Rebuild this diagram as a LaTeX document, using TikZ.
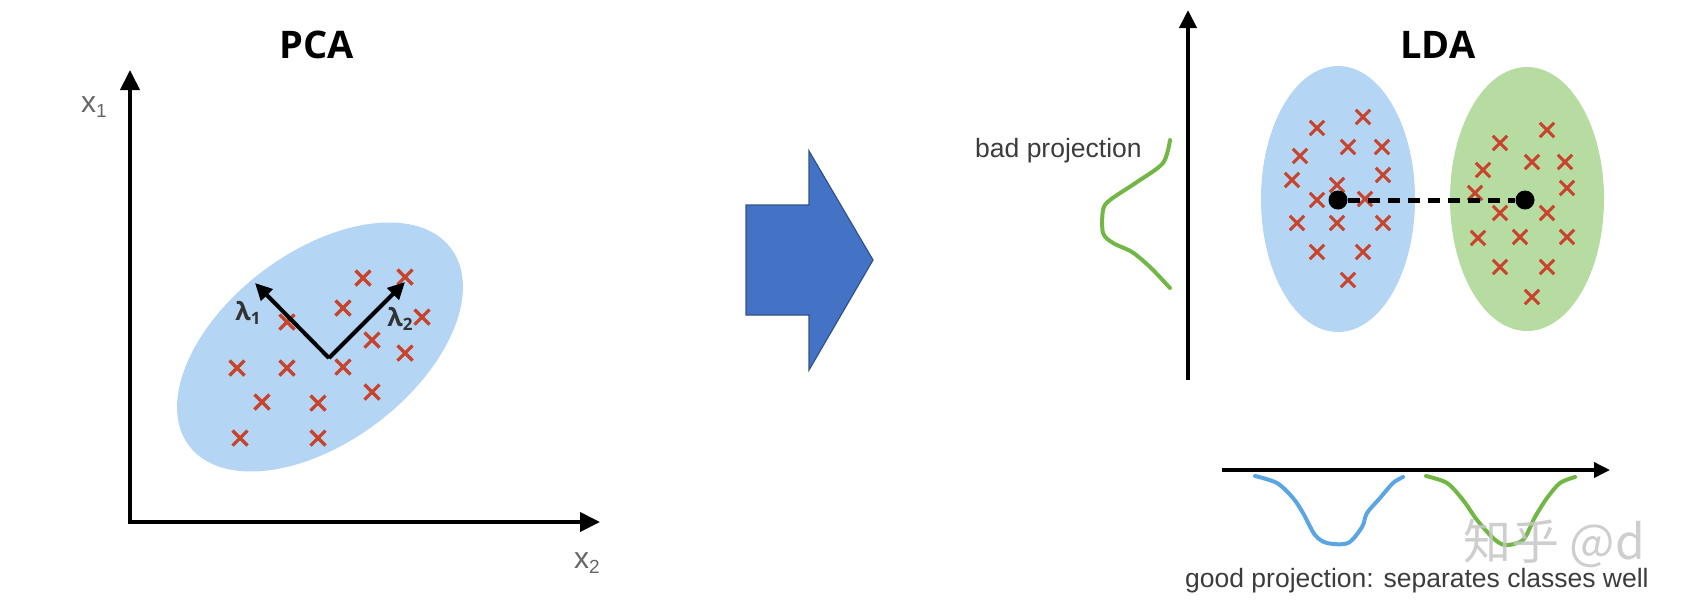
\documentclass[tikz,border=0pt]{standalone}
\usepackage{fontspec}
\setmainfont{Liberation Sans}
\newfontfamily\titlefont{Open Sans}
\newfontfamily\cjkfont{Noto Sans CJK SC}
\usetikzlibrary{arrows.meta}
\definecolor{pcablue}{HTML}{B5D5F5}
\definecolor{ldagreen}{HTML}{B7DCA2}
\definecolor{xred}{HTML}{C8432B}
\definecolor{arrowblue}{HTML}{4472C4}
\definecolor{arrowedge}{HTML}{2F528F}
\definecolor{curvegreen}{HTML}{72B646}
\definecolor{curveblue}{HTML}{5AA5E3}
\definecolor{txtgray}{HTML}{3C3C3C}
\begin{document}
\begin{tikzpicture}[x=1pt,y=-1pt,
  axisline/.style={line width=4pt, {Triangle[length=20pt,width=19pt]}-{Triangle[length=20pt,width=19pt]}},
  vaxis/.style={line width=4pt, -{Triangle[length=18pt,width=17pt]}},
  haxis/.style={line width=3.5pt, -{Triangle[length=16pt,width=15pt]}},
  vec/.style={line width=4pt, -{Triangle[length=17pt,width=16pt]}},
  xline/.style={draw=xred, line width=3.2pt},
  xmark/.pic={\draw[xline] (-7.5,-7.5)--(7.5,7.5) (-7.5,7.5)--(7.5,-7.5);},
  sxmark/.pic={\draw[xline, line width=3pt] (-7.2,-7.2)--(7.2,7.2) (-7.2,7.2)--(7.2,-7.2);},
  title/.style={font=\titlefont\bfseries\fontsize{38}{38}\selectfont, inner sep=0pt},
  lam/.style={font=\titlefont\bfseries\fontsize{25}{25}\selectfont, text=black!80, inner sep=0pt},
  axlabel/.style={font=\fontsize{30}{30}\selectfont, text=black!60, inner sep=0pt},
  caption/.style={font=\fontsize{26.5}{26.5}\selectfont, text=txtgray, inner sep=0pt, anchor=base west},
  curve/.style={line width=4pt, line join=round, line cap=round},
  centroid/.style={circle, fill=black, minimum size=19pt, inner sep=0pt},
  watermark/.style={font=\cjkfont\fontsize{48}{48}\selectfont, text=gray!45, opacity=0.85, inner sep=0pt, anchor=west}
]
\useasboundingbox (0,0) rectangle (1705,606);

% ---------------- PCA ----------------
\node[title] (pcatitle) at (317,45) {PCA};
\fill[pcablue, rotate around={37:(320,347)}] (320,347) ellipse [x radius=164, y radius=95];
\foreach \p in {(363,278),(405,277),(343,308),(287,322),(422,317),(372,340),(405,353),
  (237,368),(287,368),(343,367),(372,392),(262,402),(318,403),(240,438),(318,438)}
  \pic at \p {xmark};
\coordinate (pO) at (130,522);
\coordinate (pY) at (130,70);
\coordinate (pX) at (600,522);
\draw[axisline] (pY) -- (pO) -- (pX);
\node[axlabel] (x1lab) at (94,107) {x\raisebox{-5pt}{\fontsize{19}{19}\selectfont 1}};
\node[axlabel] (x2lab) at (587,563) {x\raisebox{-5pt}{\fontsize{19}{19}\selectfont 2}};
\coordinate (vO) at (329,358);
\coordinate (v1) at (255,283);
\coordinate (v2) at (405,282);
\draw[vec] (vO) -- (v1);
\draw[vec] (vO) -- (v2);
\node[lam] (lam1) at (248,313) {λ\raisebox{-4pt}{\fontsize{17}{17}\selectfont 1}};
\node[lam] (lam2) at (400,319) {λ\raisebox{-4pt}{\fontsize{17}{17}\selectfont 2}};

% ---------------- big arrow ----------------
\draw[fill=arrowblue, draw=arrowedge, line width=1.2pt]
  (746,205) -- (809,205) -- (809,151) -- (873,260) -- (809,370) -- (809,315) -- (746,315) -- cycle;

% ---------------- LDA ----------------
\node[title] (ldatitle) at (1438,45) {LDA};
\fill[pcablue] (1338,199) ellipse [x radius=77, y radius=133];
\fill[ldagreen] (1527,199) ellipse [x radius=77, y radius=132];
\foreach \p in {(1363,117),(1317,128),(1348,147),(1382,147),(1300,156),(1383,175),(1292,180),
  (1337,185),(1317,200),(1365,199),(1297,223),(1337,223),(1383,223),(1317,252),(1363,252),(1348,280)}
  \pic at \p {sxmark};
\foreach \p in {(1547,130),(1500,143),(1532,162),(1565,162),(1483,170),(1567,188),(1475,193),
  (1500,213),(1547,213),(1478,238),(1520,237),(1567,237),(1500,267),(1547,267),(1532,297)}
  \pic at \p {sxmark};
\node[centroid] (c1) at (1338,200) {};
\node[centroid] (c2) at (1525,200) {};
\draw[line width=5pt, dash pattern=on 12pt off 8pt] (c1) -- (c2);

% vertical projection axis
\coordinate (lvB) at (1188,380);
\coordinate (lvT) at (1188,10);
\draw[vaxis] (lvB) -- (lvT);
\draw[curve, curvegreen] plot[smooth, tension=0.5] coordinates {(1170,140) (1163,163) (1137,182) (1110,200) (1103,210) (1103,233) (1113,243) (1132,252) (1150,267) (1170,288)};
\node[caption] (badlab) at (975,157) {bad projection};

% horizontal projection axis
\coordinate (lhL) at (1222,470);
\coordinate (lhR) at (1610,470);
\draw[haxis] (lhL) -- (lhR);
\draw[curve, curveblue] plot[smooth, tension=0.5] coordinates {(1255,476) (1277,483) (1293,498) (1303,513) (1315,535) (1327,543) (1348,543) (1362,527) (1367,513) (1380,498) (1393,483) (1403,477)};
\draw[curve, curvegreen] plot[smooth, tension=0.5] coordinates {(1426,476) (1447,483) (1463,500) (1477,520) (1493,538) (1505,545) (1523,540) (1535,517) (1547,498) (1560,483) (1575,477)};
\node[watermark] (wm) at (1463,543) {知乎 @d};
\node[caption] (goodlab) at (1185,587) {good projection: separates classes well};
\end{tikzpicture}
\end{document}
